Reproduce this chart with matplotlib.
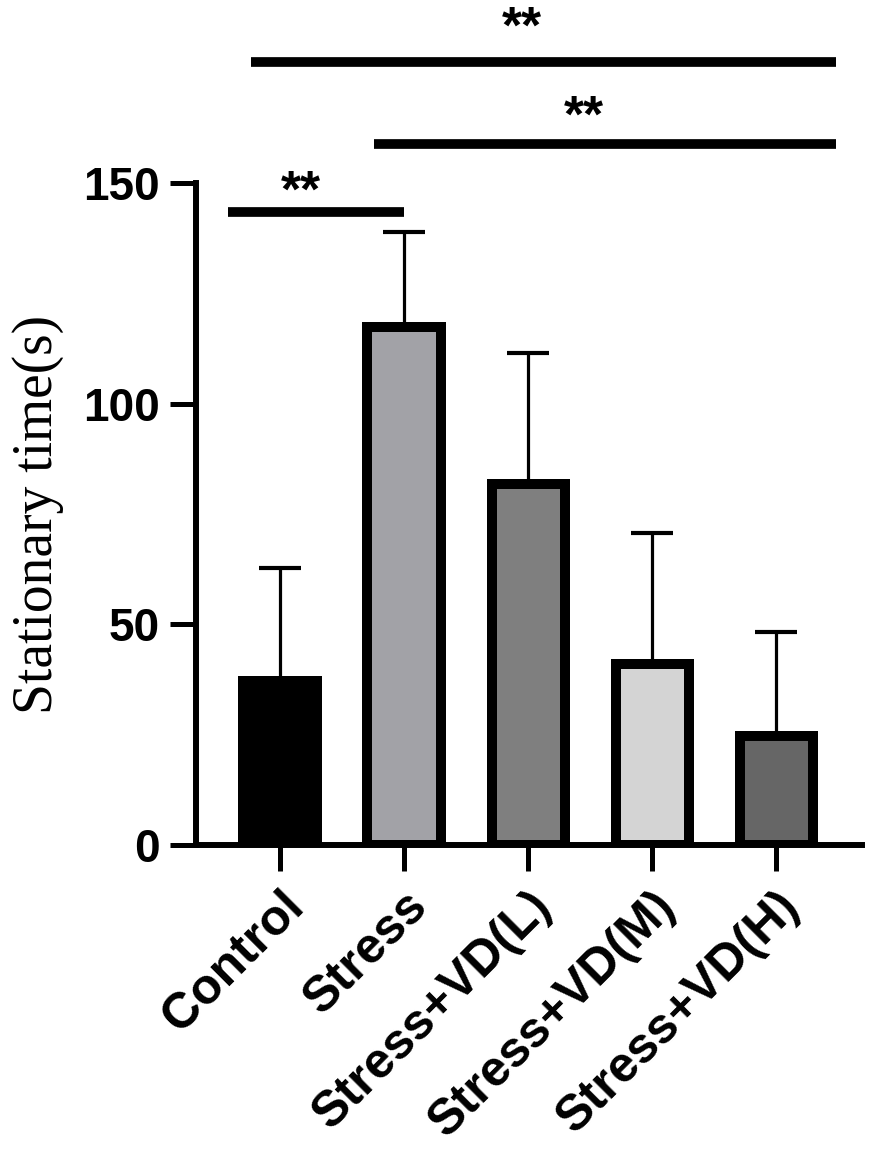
import matplotlib
matplotlib.use("Agg")
import matplotlib.pyplot as plt
import numpy as np

categories = ["Control", "Stress", "Stress+VD(L)", "Stress+VD(M)", "Stress+VD(H)"]
means = [37.2, 117.4, 81.8, 41.0, 24.7]
errors = [25.6, 21.5, 29.7, 29.7, 23.6]
colors = ["#000000", "#a2a2a7", "#7f7f7f", "#d4d4d4", "#666666"]
yticks = [0, 50, 100, 150]

# significance brackets: (x_start, x_end, y_line, star_x, star_y)
sig_lines = [(-0.234, 4.484, 177.4, 1.952, 184.8),
             (0.758, 4.484, 158.9, 2.452, 164.6),
             (-0.419, 1.0, 143.4, 0.17, 147.8)]
sig_labels = ["**", "**", "**"]

fig = plt.figure(figsize=(8.86, 11.53), dpi=100)
ax = fig.add_axes([0.2212, 0.2671, 0.7517, 0.5742])

x = np.arange(len(categories))
ax.bar(x, means, width=0.59, color=colors, edgecolor="black", linewidth=7.2, zorder=3)
ax.errorbar(x, means, yerr=[np.zeros(len(errors)), errors], fmt="none",
            ecolor="black", elinewidth=2.3, capsize=15, capthick=3.0, zorder=2)

ax.set_xlim(-0.677, 4.69)
ax.set_ylim(0, 150)
ax.set_yticks(yticks)
ax.set_xticks(x)
ax.set_xticklabels(categories, rotation=45, ha="right", rotation_mode="anchor",
                   fontsize=36, fontweight="bold", family="Liberation Sans")
for lab in ax.get_yticklabels():
    lab.set_fontsize(33)
    lab.set_fontweight("bold")
    lab.set_family("Liberation Sans")

for s in ["top", "right"]:
    ax.spines[s].set_visible(False)
for s in ["left", "bottom"]:
    ax.spines[s].set_linewidth(4.3)
ax.tick_params(axis="both", direction="out", length=19, width=3.6)
ax.tick_params(axis="y", pad=7)
ax.tick_params(axis="x", pad=8)

ax.set_ylabel("Stationary time(s)", fontsize=40, family="Liberation Serif")
ax.yaxis.set_label_coords(-0.198, 0.5)

for (x0, x1, yy, sx, sy), lab in zip(sig_lines, sig_labels):
    ax.plot([x0, x1], [yy, yy], color="black", linewidth=7, clip_on=False,
            solid_capstyle="butt")
    ax.text(sx, sy, lab, ha="center", va="center", fontsize=37, fontweight="bold",
            family="Liberation Sans", clip_on=False)

fig.savefig("out.png", dpi=100)
